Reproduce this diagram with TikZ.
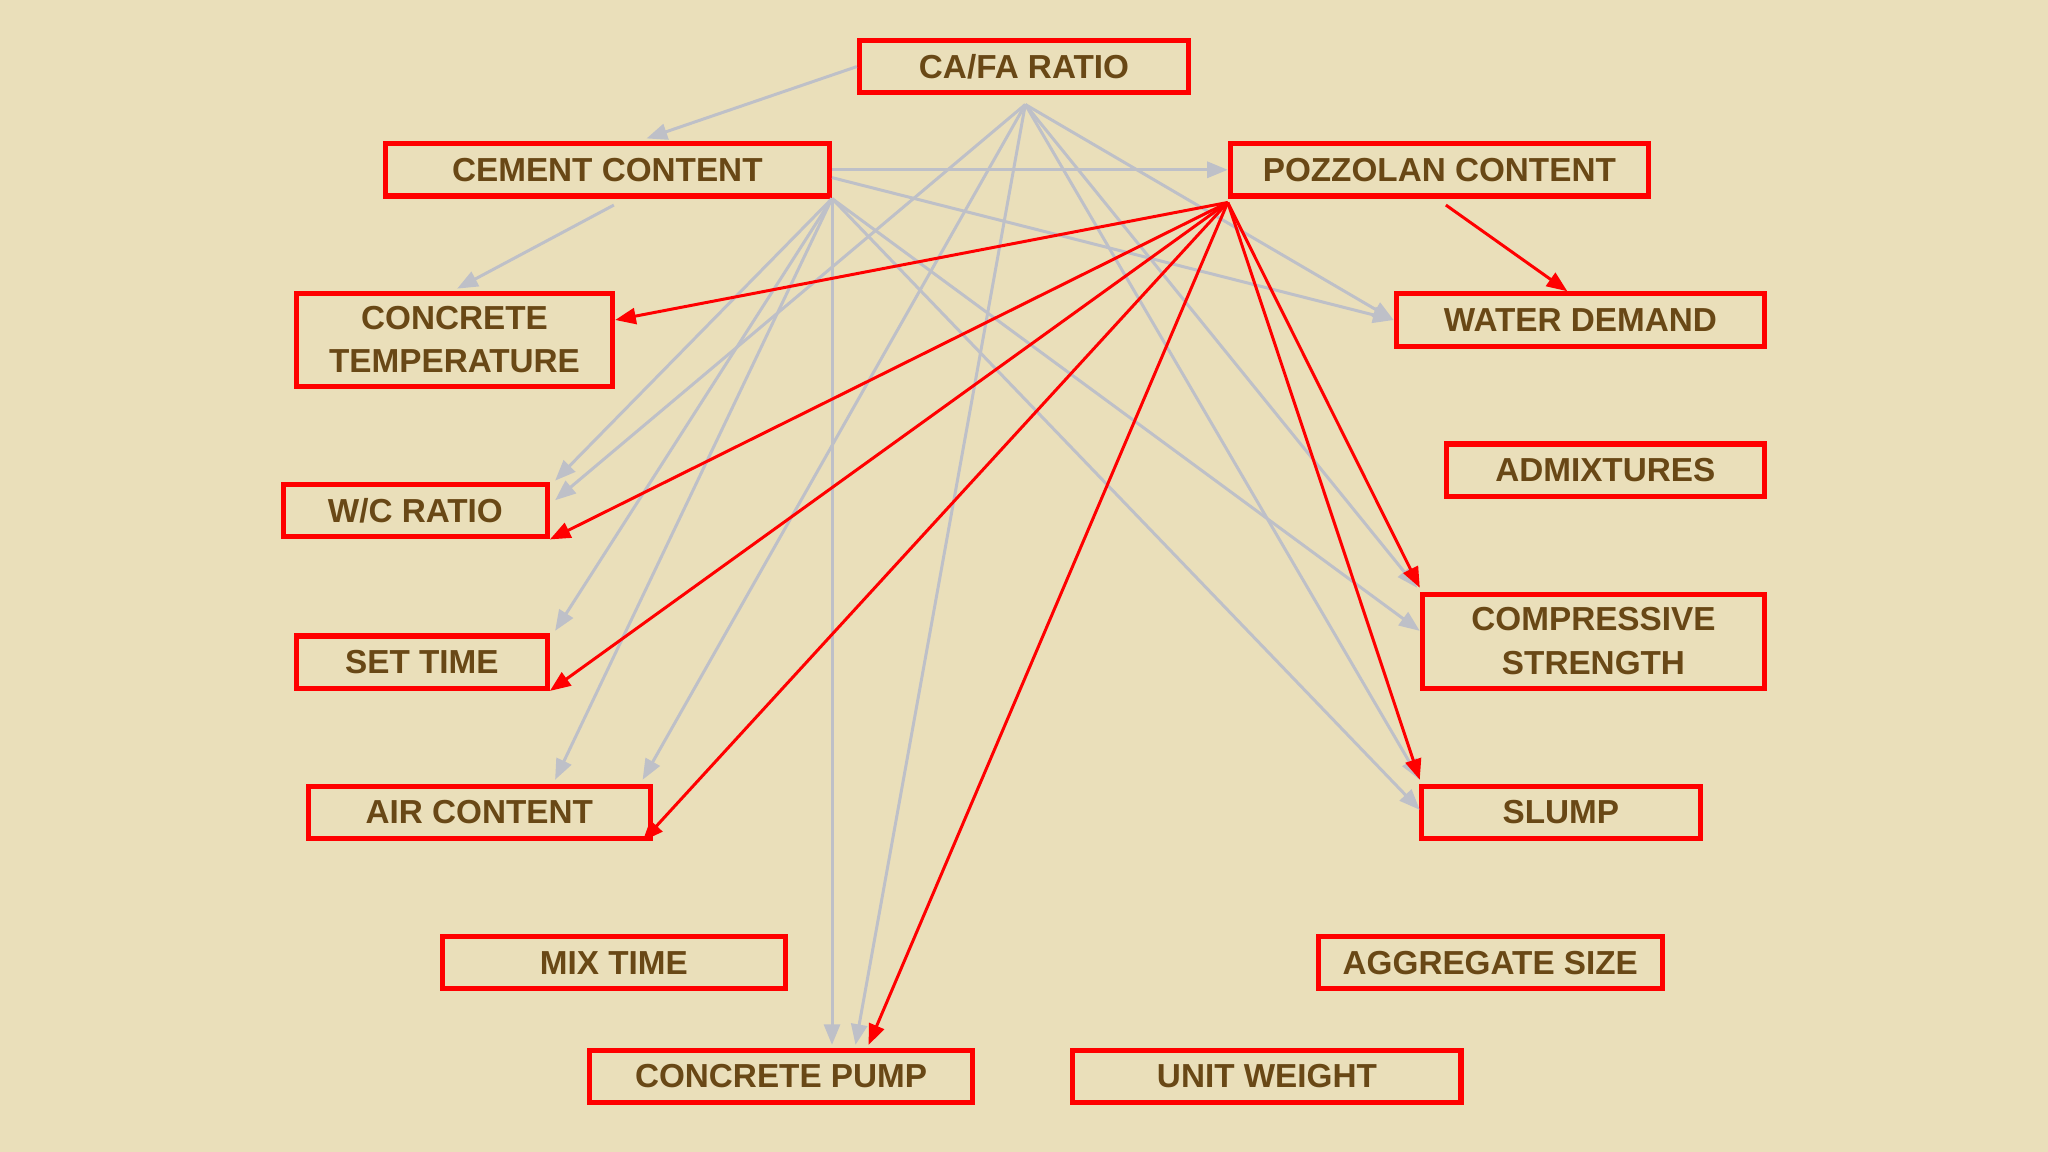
\documentclass[tikz,border=0pt]{standalone}
\usepackage{fontspec}
\setmainfont{Liberation Sans}
\usetikzlibrary{arrows.meta}
\definecolor{bg}{RGB}{234,223,186}
\definecolor{txt}{RGB}{105,72,22}
\definecolor{gl}{RGB}{190,192,200}
\tikzset{
 box/.style={draw=red,line width=2.2pt,text=txt,font=\fontsize{14.5}{19}\selectfont\bfseries,align=center,inner sep=0pt},
 ga/.style={draw=gl,line width=1.3pt,-{Triangle[length=9pt,width=7pt]}},
 ra/.style={draw=red,line width=1.3pt,-{Triangle[length=9pt,width=7pt]}}
}
\newcommand{\bx}[6]{\node[box,minimum width=#4*0.02cm-2.2pt,minimum height=#5*0.02cm-2.2pt] (#1) at (#2,#3) {#6};}
\begin{document}
\begin{tikzpicture}[x=0.02cm,y=-0.02cm]
\fill[bg] (0,0) rectangle (1568,882);
\useasboundingbox (0,0) rectangle (1568,882);
\bx{cafa}{784}{51}{256}{44}{CA/FA RATIO}
\bx{cem}{465}{130}{344}{44}{CEMENT CONTENT}
\bx{poz}{1102}{130}{324}{44}{POZZOLAN CONTENT}
\bx{temp}{348}{260}{246}{75}{CONCRETE\\TEMPERATURE}
\bx{water}{1210}{245}{286}{44}{WATER DEMAND}
\bx{adm}{1229}{360}{247}{44}{ADMIXTURES}
\bx{wc}{318}{391}{206}{44}{W/C RATIO}
\bx{comp}{1220}{491}{266}{76}{COMPRESSIVE\\STRENGTH}
\bx{set}{323}{507}{196}{44}{SET TIME}
\bx{air}{367}{622}{266}{44}{AIR CONTENT}
\bx{slump}{1195}{622}{217}{44}{SLUMP}
\bx{mix}{470}{737}{266}{44}{MIX TIME}
\bx{agg}{1141}{737}{267}{44}{AGGREGATE SIZE}
\bx{pump}{598}{824}{297}{44}{CONCRETE PUMP}
\bx{unit}{970}{824}{301}{44}{UNIT WEIGHT}
% hubs
\coordinate (ch) at (785,80);
\coordinate (cs) at (637,152);
\coordinate (ph) at (940,155);
% gray
\draw[ga] (cafa.west) -- (495,106);
\draw[ga] (470,157) -- (350,221);
\draw[ga] (cem.east) -- (poz.west);
\draw[ga] (637,136) -- (1067,245);
\draw[ga] (cs) -- (425,368);
\draw[ga] (cs) -- (425,483);
\draw[ga] (cs) -- (425,597);
\draw[ga] (cs) -- (637,800);
\draw[ga] (cs) -- (1087,483);
\draw[ga] (cs) -- (1087,620);
\draw[ga] (ch) -- (425,383);
\draw[ga] (ch) -- (492,597);
\draw[ga] (ch) -- (655,800);
\draw[ga] (ch) -- (1085,450);
\draw[ga] (ch) -- (1067,245);
\draw[ga] (ch) -- (1087,597);
% red
\draw[ra] (ph) -- (471,245);
\draw[ra] (ph) -- (421,413);
\draw[ra] (ph) -- (421,529);
\draw[ra] (ph) -- (492,644);
\draw[ra] (ph) -- (665,800);
\draw[ra] (ph) -- (1087,450);
\draw[ra] (ph) -- (1087,597);
\draw[ra] (1107,157) -- (1200,223);
\end{tikzpicture}
\end{document}
